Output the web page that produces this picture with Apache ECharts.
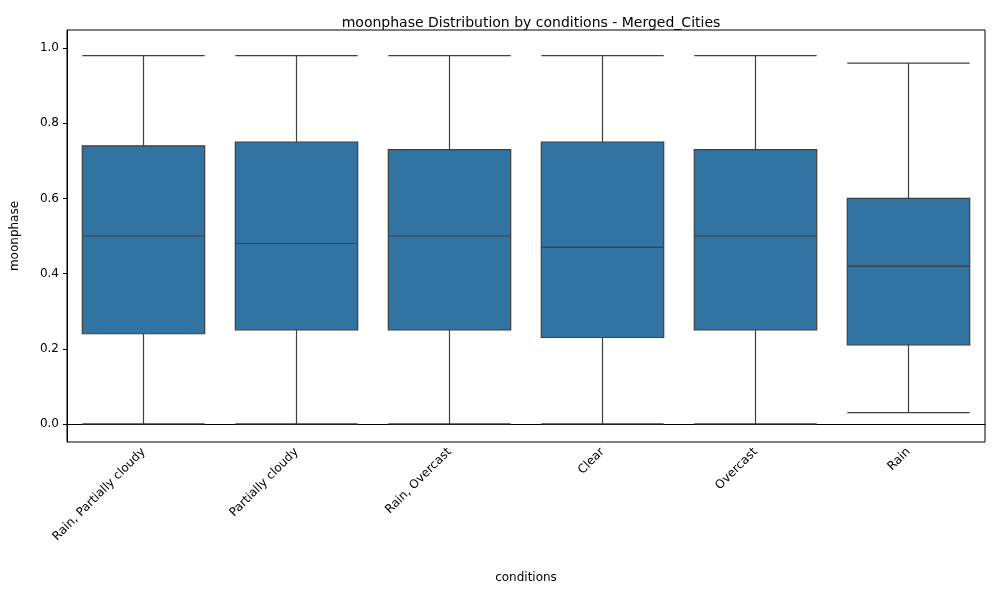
<!DOCTYPE html>
<html>
<head>
<meta charset="utf-8">
<title>moonphase boxplot</title>
<script src="https://cdn.jsdelivr.net/npm/echarts@6/dist/echarts.min.js"></script>
</head>
<body style="margin:0">
<div id="main" style="width:1000px;height:600px;"></div>
<script>
var categories = ['Rain, Partially cloudy', 'Partially cloudy', 'Rain, Overcast', 'Clear', 'Overcast', 'Rain'];
// [min, q1, median, q3, max]
var boxValues = [
    [0.00, 0.24, 0.50, 0.74, 0.98],
    [0.00, 0.25, 0.48, 0.75, 0.98],
    [0.00, 0.25, 0.50, 0.73, 0.98],
    [0.00, 0.23, 0.47, 0.75, 0.98],
    [0.00, 0.25, 0.50, 0.73, 0.98],
    [0.03, 0.21, 0.42, 0.60, 0.96]
];
var yTicks = [0, 0.2, 0.4, 0.6, 0.8, 1.0];

var myChart = echarts.init(document.getElementById('main'));
var font = 'DejaVu Sans';
myChart.setOption({
    textStyle: { fontFamily: font },
    title: {
        text: 'moonphase Distribution by conditions - Merged_Cities',
        left: 526, top: 11, textAlign: 'center',
        textStyle: { fontFamily: font, fontSize: 14, fontWeight: 'normal', color: '#000' }
    },
    grid: { left: 67, right: 15, top: 30, bottom: 158, show: true, borderColor: '#000', borderWidth: 1 },
    xAxis: {
        type: 'category', data: categories,
        name: 'conditions', nameLocation: 'middle', nameGap: 130,
        nameTextStyle: { fontSize: 12, color: '#000' },
        axisLine: { lineStyle: { color: '#000' } },
        axisTick: { alignWithLabel: true, length: 4, lineStyle: { color: '#000' } },
        axisLabel: { rotate: 45, fontSize: 12, color: '#000', margin: 8 },
        splitLine: { show: false }
    },
    yAxis: {
        type: 'value', min: -0.048, max: 1.048,
        name: 'moonphase', nameLocation: 'middle', nameGap: 46,
        nameTextStyle: { fontSize: 12, color: '#000' },
        axisLine: { show: true, lineStyle: { color: '#000' } },
        axisTick: { show: true, length: 4, customValues: yTicks, lineStyle: { color: '#000' } },
        axisLabel: { fontSize: 12, color: '#000', customValues: yTicks,
            formatter: function (v) { return v.toFixed(1); } },
        splitLine: { show: false }
    },
    series: [{
        type: 'boxplot',
        data: boxValues,
        boxWidth: ['80%', '80%'],
        itemStyle: { color: '#3274a1', borderColor: '#3f3f3f', borderWidth: 1.2 },
        emphasis: { disabled: true }
    }]
});
</script>
</body>
</html>
